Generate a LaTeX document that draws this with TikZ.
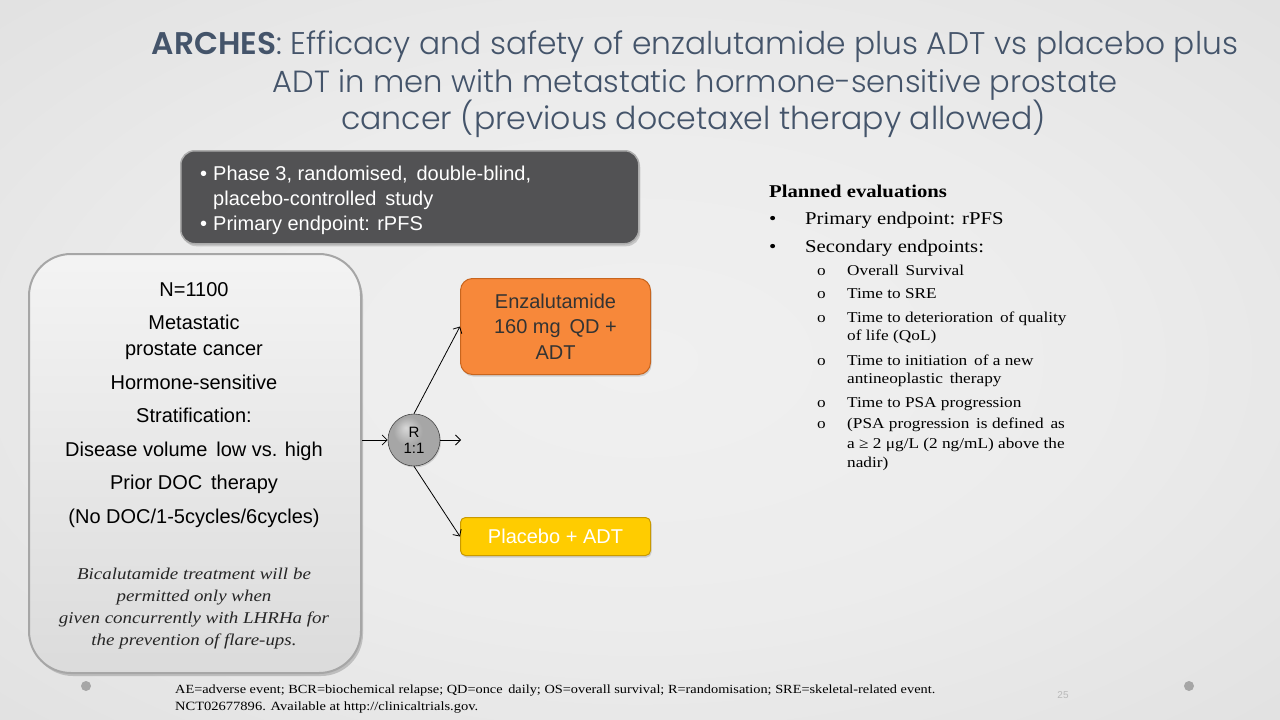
\documentclass[tikz,border=0pt]{standalone}
\usepackage{fontspec}
\usepackage{graphicx}
\usetikzlibrary{arrows.meta,shadows}
\setmainfont{Liberation Serif}
\newfontfamily\arial{Liberation Sans}
\newfontfamily\pal{Liberation Serif}[FakeStretch=1.15]
\newfontfamily\ttl{Poppins Light}[BoldFont={Poppins SemiBold}]
\definecolor{titlec}{HTML}{44546A}
\definecolor{darkfill}{HTML}{525254}
\definecolor{orng}{HTML}{F7883A}
\definecolor{orngdk}{HTML}{C8651E}
\definecolor{yel}{HTML}{FFCC00}
\definecolor{yeldk}{HTML}{C99A00}
\definecolor{bgin}{HTML}{F0F0F0}
\definecolor{bgin2}{HTML}{ECECEC}
\definecolor{bgmid}{HTML}{D9D9D9}
\definecolor{bgout}{HTML}{C2C2C2}
\definecolor{balllt}{HTML}{D8D8D8}
\definecolor{ballmd}{HTML}{A6A6A6}
\definecolor{balldk}{HTML}{7A7A7A}
\pgfdeclareradialshading{bgshade}{\pgfpoint{0bp}{0bp}}{color(0bp)=(bgin); color(18bp)=(bgin2); color(50bp)=(bgmid); color(72bp)=(bgout)}
\pgfdeclareradialshading{rshade}{\pgfpoint{-8bp}{12bp}}{color(0bp)=(balllt); color(14bp)=(ballmd); color(38bp)=(ballmd); color(50bp)=(balldk)}
\begin{document}
\begin{tikzpicture}[x=1pt,y=-1pt,
  ttlfont/.style={font=\ttl\fontsize{30}{36}\selectfont, text=titlec, inner sep=0pt},
  darkbox/.style={draw=gray!65, line width=1.5pt, fill=darkfill, rounded corners=14pt,
    drop shadow={opacity=0.35, shadow xshift=1.5pt, shadow yshift=-2.5pt}},
  leftbox/.style={draw=gray!70, line width=2pt, top color=gray!9, bottom color=gray!28,
    rounded corners=42pt, drop shadow={opacity=0.4, shadow xshift=2pt, shadow yshift=-3pt}},
  obox/.style={draw=orngdk, line width=1pt, fill=orng, rounded corners=12pt,
    font=\arial\fontsize{20}{25.5}\selectfont, text=black!80, align=center,
    drop shadow={opacity=0.3, shadow xshift=1pt, shadow yshift=-2pt}},
  ybox/.style={draw=yeldk, line width=1pt, fill=yel, rounded corners=5pt,
    font=\arial\fontsize{20}{24}\selectfont, text=white,
    drop shadow={opacity=0.3, shadow xshift=1pt, shadow yshift=-2pt}},
  rball/.style={circle, draw=gray!55!black, line width=0.6pt, shading=rshade,
    minimum size=52pt, inner sep=0pt, align=center, font=\arial\fontsize{15}{19}\selectfont,
    drop shadow={opacity=0.3, shadow xshift=1pt, shadow yshift=-1.5pt}},
  arr/.style={draw=black, line width=0.8pt, -{Straight Barb[length=5pt,width=10pt,line width=0.8pt]}},
  wtxt/.style={font=\arial\fontsize{20}{24}\selectfont, text=white, inner sep=0pt},
  btxt/.style={font=\arial\fontsize{20}{24}\selectfont, text=black, inner sep=0pt, anchor=base},
  itxt/.style={font=\pal\itshape\fontsize{16.5}{20}\selectfont, text=black!85, inner sep=0pt, anchor=base},
  evh/.style={font=\pal\bfseries\fontsize{18}{22}\selectfont, inner sep=0pt, anchor=base west},
  ev1/.style={font=\pal\fontsize{18}{22}\selectfont, inner sep=0pt, anchor=base west},
  ev2/.style={font=\pal\fontsize{15}{18}\selectfont, inner sep=0pt, anchor=base west},
  fn/.style={inner sep=0pt, anchor=base west},
  dot/.style={circle, fill=gray!70, minimum size=10pt, inner sep=0pt}
]
\shade[shading=bgshade] (0,0) rectangle (1280,720);
\useasboundingbox (0,0) rectangle (1280,720);

% title
\node[ttlfont, anchor=base] (t1) at (695,54) {\resizebox{1086pt}{!}{\textbf{ARCHES}: Efficacy and safety of enzalutamide plus ADT vs placebo plus}};
\node[ttlfont, anchor=base] (t2) at (695.5,92) {\resizebox{845pt}{!}{ADT in men with metastatic hormone-sensitive prostate}};
\node[ttlfont, anchor=base] (t3) at (693.5,129) {\resizebox{705pt}{!}{cancer (previous docetaxel therapy allowed)}};

% dark info box
\node[darkbox, minimum width=458pt, minimum height=93pt, anchor=north west] (info) at (180,150) {};
\node[wtxt, anchor=base west] (ib1) at (200,180) {•};
\node[wtxt, anchor=base west] (it1) at (213,180) {Phase 3, randomised,\, double-blind,};
\node[wtxt, anchor=base west] (it2) at (213,205) {placebo-controlled\, study};
\node[wtxt, anchor=base west] (ib2) at (200,230) {•};
\node[wtxt, anchor=base west] (it3) at (213,230) {Primary endpoint: rPFS};

% left population box
\node[leftbox, minimum width=332pt, minimum height=419pt, anchor=north west] (pop) at (28,253) {};
\node[btxt] (p1) at (194,296) {N=1100};
\node[btxt] (p2) at (194,329) {Metastatic};
\node[btxt] (p3) at (194,355) {prostate cancer};
\node[btxt] (p4) at (194,389) {Hormone-sensitive};
\node[btxt] (p5) at (194,422) {Stratification:};
\node[btxt] (p6) at (194,456) {Disease volume\, low vs. high};
\node[btxt] (p7) at (194,489) {Prior DOC\, therapy};
\node[btxt] (p8) at (194,523) {(No DOC/1-5cycles/6cycles)};
\node[itxt] (q1) at (194,579) {Bicalutamide treatment will be};
\node[itxt] (q2) at (194,601) {permitted only when};
\node[itxt] (q3) at (194,623) {given concurrently with LHRHa for};
\node[itxt] (q4) at (194,645) {the prevention of flare-ups.};

% randomisation
\node[rball] (R) at (414,440) {R\\[-3pt]1:1};
\node[obox, minimum width=190pt, minimum height=96pt, anchor=north west] (enz) at (460,278) {Enzalutamide\\160 mg\, QD +\\ADT};
\node[ybox, minimum width=190pt, minimum height=38pt, anchor=north west] (pla) at (460,517) {Placebo + ADT};
\coordinate (free) at (461,440);
\draw[arr] (pop.east |- R) -- (R.west);
\draw[arr] (R.east) -- (free);
\draw[arr] (R.north) -- (enz.west);
\draw[arr] (R.south) -- (pla.west);

% planned evaluations
\node[evh] (e0) at (769,197) {Planned evaluations};
\node[ev1] (eb1) at (769,224) {•};
\node[ev1] (e1) at (805,224) {Primary endpoint: rPFS};
\node[ev1] (eb2) at (769,252) {•};
\node[ev1] (e2) at (805,252) {Secondary endpoints:};
\node[ev2] (so1) at (817,275) {o};
\node[ev2] (s1) at (847,275) {Overall\, Survival};
\node[ev2] (so2) at (817,298) {o};
\node[ev2] (s2) at (847,298) {Time to SRE};
\node[ev2] (so3) at (817,322) {o};
\node[ev2] (s3a) at (847,322) {Time to deterioration\, of quality};
\node[ev2] (s3b) at (847,340) {of life (QoL)};
\node[ev2] (so4) at (817,365) {o};
\node[ev2] (s4a) at (847,365) {Time to initiation\, of a new};
\node[ev2] (s4b) at (847,383) {antineoplastic\, therapy};
\node[ev2] (so5) at (817,407) {o};
\node[ev2] (s5) at (847,407) {Time to PSA progression};
\node[ev2] (so6) at (817,428) {o};
\node[ev2] (s6a) at (847,428) {(PSA progression\, is defined\, as};
\node[ev2] (s6b) at (847,448) {a ≥ 2 μg/L (2 ng/mL) above the};
\node[ev2] (s6c) at (847,467) {nadir)};

% footnote
\node[fn] (f1) at (175,693) {\resizebox{760pt}{!}{\pal\fontsize{12}{14}\selectfont AE=adverse event; BCR=biochemical relapse; QD=once\, daily; OS=overall survival; R=randomisation; SRE=skeletal-related event.}};
\node[fn] (f2) at (175,710) {\resizebox{303pt}{!}{\pal\fontsize{12}{14}\selectfont NCT02677896. Available at http://clinicaltrials.gov.}};
\node[font=\arial\fontsize{10}{11}\selectfont, text=gray!55, inner sep=0pt] (pg) at (1063,695) {25};
\node[dot] (d1) at (86,686) {};
\node[dot] (d2) at (1189,686) {};
\end{tikzpicture}
\end{document}
